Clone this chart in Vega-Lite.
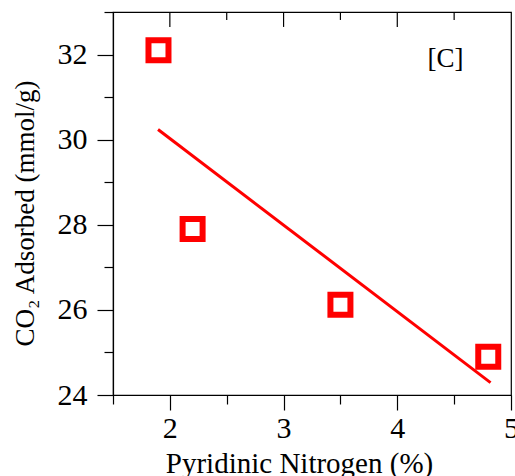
{
  "$schema": "https://vega.github.io/schema/vega-lite/v6.json",
  "width": 398,
  "height": 383,
  "autosize": "none",
  "padding": {"left": 113, "top": 12, "right": 4, "bottom": 81},
  "background": "#ffffff",
  "config": {
    "view": {"stroke": "#000000", "strokeWidth": 1.2},
    "font": "Liberation Serif",
    "axis": {
      "grid": false,
      "domainColor": "#000000",
      "domainWidth": 1.2,
      "tickColor": "#000000",
      "tickWidth": 1.2,
      "labelColor": "#000000",
      "titleColor": "#000000",
      "labelFont": "Liberation Serif",
      "titleFont": "Liberation Serif",
      "titleFontWeight": "normal"
    }
  },
  "layer": [
    {
      "data": {"values": [
        {"x": 1.9, "y": 32.1},
        {"x": 2.2, "y": 27.9},
        {"x": 3.5, "y": 26.12},
        {"x": 4.8, "y": 24.9}
      ]},
      "mark": {"type": "point", "shape": "square", "filled": false, "stroke": "#ff0000", "strokeWidth": 6, "size": 400, "opacity": 1},
      "encoding": {
        "x": {
          "field": "x", "type": "quantitative",
          "scale": {"domain": [1.5, 5], "nice": false, "zero": false},
          "axis": {
            "orient": "bottom",
            "values": [1.5, 2, 2.5, 3, 3.5, 4, 4.5, 5],
            "labelExpr": "datum.value % 1 === 0 ? format(datum.value, 'd') : ''",
            "tickSize": {"condition": {"test": "datum.value % 1 === 0", "value": 15}, "value": 9},
            "labelFontSize": 30,
            "labelPadding": 3,
            "labelFlush": false,
            "labelOverlap": false,
            "title": "Pyridinic Nitrogen (%)",
            "titleFontSize": 29,
            "titleAnchor": null,
            "titleAlign": "center",
            "titleBaseline": "alphabetic",
            "titleX": 186,
            "titleY": 77
          }
        },
        "y": {
          "field": "y", "type": "quantitative",
          "scale": {"domain": [24, 33], "nice": false, "zero": false},
          "axis": {
            "values": [24, 25, 26, 27, 28, 29, 30, 31, 32, 33],
            "labelExpr": "datum.value % 2 === 0 ? format(datum.value, 'd') : ''",
            "tickSize": {"condition": {"test": "datum.value % 2 === 0", "value": 16}, "value": 9},
            "labelFontSize": 30,
            "labelPadding": 10,
            "labelOverlap": false,
            "title": "CO₂ Adsorbed (mmol/g)",
            "titleFontSize": 27,
            "titleAngle": -90,
            "titleAlign": "center",
            "titleBaseline": "alphabetic",
            "titleX": -80,
            "titleY": 201
          }
        }
      }
    },
    {
      "data": {"values": [{"x": 1.896, "y": 30.24}, {"x": 4.82, "y": 24.29}]},
      "mark": {"type": "line", "color": "#ff0000", "strokeWidth": 3},
      "encoding": {
        "x": {"field": "x", "type": "quantitative", "scale": {"domain": [1.5, 5], "nice": false, "zero": false}, "axis": null},
        "y": {"field": "y", "type": "quantitative", "scale": {"domain": [24, 33], "nice": false, "zero": false}}
      }
    },
    {
      "data": {"values": [{"t": 2}, {"t": 3}, {"t": 4}]},
      "mark": {"type": "rule", "color": "#000000", "strokeWidth": 1.2},
      "encoding": {
        "x": {"field": "t", "type": "quantitative", "scale": {"domain": [1.5, 5], "nice": false, "zero": false}, "axis": null},
        "y": {"datum": 33, "type": "quantitative"},
        "y2": {"datum": 32.649}
      }
    },
    {
      "data": {"values": [{"t": 2.5}, {"t": 3.5}, {"t": 4.5}]},
      "mark": {"type": "rule", "color": "#000000", "strokeWidth": 1.2},
      "encoding": {
        "x": {"field": "t", "type": "quantitative", "scale": {"domain": [1.5, 5], "nice": false, "zero": false}, "axis": null},
        "y": {"datum": 33, "type": "quantitative"},
        "y2": {"datum": 32.813}
      }
    },
    {
      "data": {"values": [{"x": 4.425, "y": 31.9, "label": "[C]"}]},
      "mark": {"type": "text", "fontSize": 27, "font": "Liberation Serif", "color": "#000000", "align": "center", "baseline": "middle"},
      "encoding": {
        "x": {"field": "x", "type": "quantitative", "scale": {"domain": [1.5, 5], "nice": false, "zero": false}, "axis": null},
        "y": {"field": "y", "type": "quantitative", "scale": {"domain": [24, 33], "nice": false, "zero": false}},
        "text": {"field": "label"}
      }
    }
  ],
  "resolve": {"axis": {"x": "independent"}}
}
